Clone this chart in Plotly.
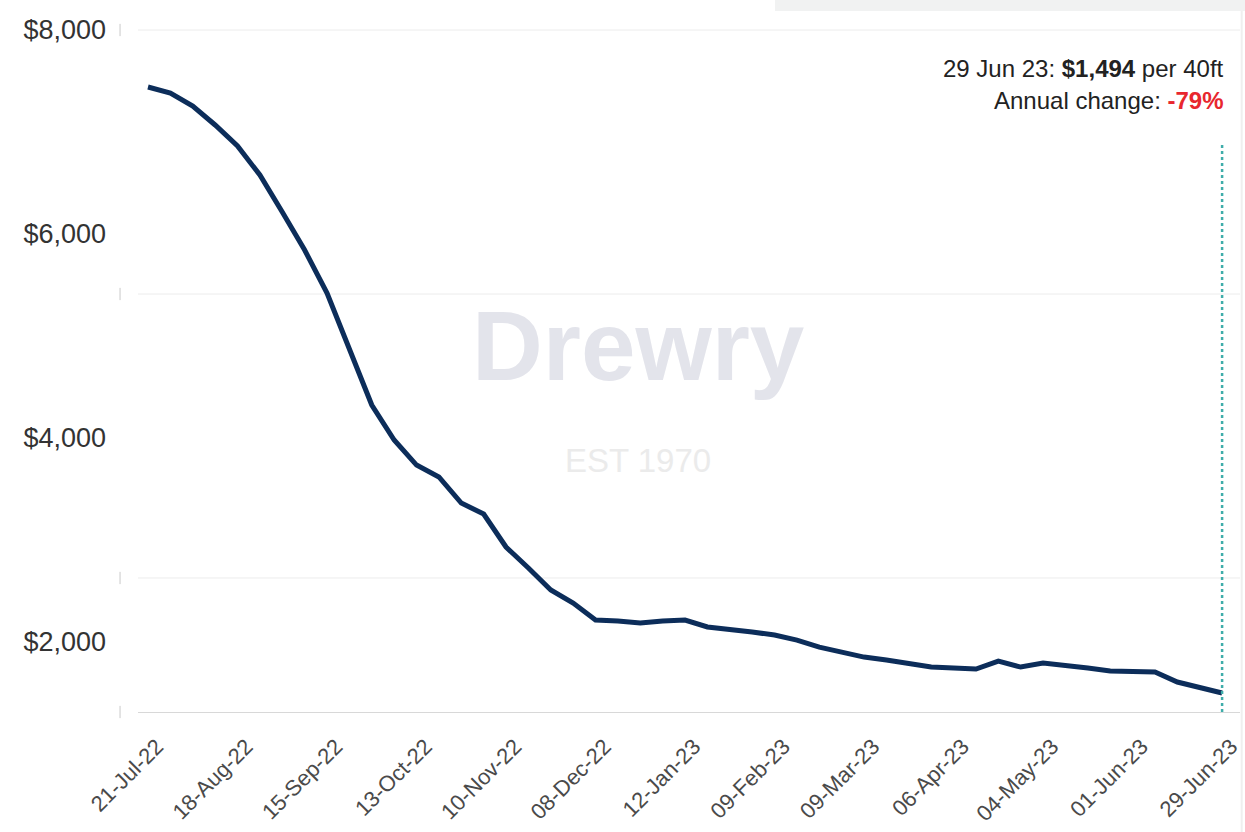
import plotly.graph_objects as go

# Weekly composite spot rate, USD per 40ft container (29 Dec 2022 not published)
dates = [
    "21-Jul-22", "28-Jul-22", "04-Aug-22", "11-Aug-22", "18-Aug-22", "25-Aug-22",
    "01-Sep-22", "08-Sep-22", "15-Sep-22", "22-Sep-22", "29-Sep-22", "06-Oct-22",
    "13-Oct-22", "20-Oct-22", "27-Oct-22", "03-Nov-22", "10-Nov-22", "17-Nov-22",
    "24-Nov-22", "01-Dec-22", "08-Dec-22", "15-Dec-22", "22-Dec-22", "05-Jan-23",
    "12-Jan-23", "19-Jan-23", "26-Jan-23", "02-Feb-23", "09-Feb-23", "16-Feb-23",
    "23-Feb-23", "02-Mar-23", "09-Mar-23", "16-Mar-23", "23-Mar-23", "30-Mar-23",
    "06-Apr-23", "13-Apr-23", "20-Apr-23", "27-Apr-23", "04-May-23", "11-May-23",
    "18-May-23", "25-May-23", "01-Jun-23", "08-Jun-23", "15-Jun-23", "22-Jun-23",
    "29-Jun-23",
]
rates = [
    7441, 7382, 7254, 7068, 6862, 6577, 6214, 5841, 5419, 4879,
    4320, 3977, 3731, 3614, 3358, 3251, 2927, 2721, 2505, 2377,
    2210, 2200, 2181, 2200, 2210, 2142, 2122, 2093, 2063, 2014,
    1945, 1896, 1847, 1818, 1788, 1749, 1739, 1730, 1808, 1749,
    1788, 1769, 1739, 1710, 1700, 1700, 1602, 1543, 1494,
]
tick_dates = dates[::4]
y_ticks = [2000, 4000, 6000, 8000]
y_tick_text = ["$2,000", "$4,000", "$6,000", "$8,000"]

latest_label = "29 Jun 23"
latest_rate = rates[-1]
annual_change = "-79%"

FONT = "Liberation Sans, Arial, sans-serif"
LINE_COLOR = "#0c2d5a"

fig = go.Figure()
fig.add_trace(go.Scatter(
    x=dates, y=rates, mode="lines",
    line=dict(color=LINE_COLOR, width=5),
    hoverinfo="skip", showlegend=False,
))

# Light horizontal guides and the small tick dashes left of the plot
guide_fracs = [1.0, 0.6129, 0.1965]
for f in guide_fracs:
    fig.add_shape(type="line", xref="paper", yref="paper", x0=0, x1=1, y0=f, y1=f,
                  line=dict(color="#ececec", width=1), layer="below")
for f in guide_fracs + [0.0]:
    fig.add_shape(type="line", xref="paper", yref="paper", x0=-0.0163, x1=-0.0163,
                  y0=f - 0.009, y1=f + 0.009, line=dict(color="#c9c9c9", width=1))

# Marker for the most recent reading
fig.add_shape(type="line", xref="x", yref="paper", x0=dates[-1], x1=dates[-1],
              y0=0, y1=0.834, line=dict(color="#3fadaa", width=2.5, dash="dot"))

# Page strip at the top right and card edge
fig.add_shape(type="rect", xref="paper", yref="paper", x0=0.578, x1=1.01,
              y0=1.028, y1=1.05, fillcolor="#f1f2f2", line=dict(width=0), layer="below")
fig.add_shape(type="line", xref="paper", yref="paper", x0=1.0015, x1=1.0015,
              y0=-0.2, y1=1.028, line=dict(color="#efefef", width=2))

# Watermark
fig.add_annotation(text="<b>Drewry</b>", xref="paper", yref="paper", x=0.4537, y=0.536,
                   showarrow=False, font=dict(family=FONT, size=98, color="#e3e4eb"))
fig.add_annotation(text="EST 1970", xref="paper", yref="paper", x=0.4537, y=0.3695,
                   showarrow=False, font=dict(family=FONT, size=33, color="#ebebeb"))

# Latest value and annual change
fig.add_annotation(
    text=f"{latest_label}: <b>${latest_rate:,}</b> per 40ft",
    xref="paper", yref="paper", x=0.9873, y=0.944, xanchor="right", yanchor="middle",
    showarrow=False, font=dict(family=FONT, size=24, color="#222222"))
fig.add_annotation(
    text=f"Annual change: <b><span style='color:#e8272e'>{annual_change}</span></b>",
    xref="paper", yref="paper", x=0.9873, y=0.896, xanchor="right", yanchor="middle",
    showarrow=False, font=dict(family=FONT, size=24, color="#222222"))

fig.update_xaxes(
    type="category", categoryorder="array", categoryarray=dates,
    range=[-0.447, len(dates) - 0.2],
    tickmode="array", tickvals=tick_dates, ticktext=tick_dates,
    tickangle=-45, ticks="", showgrid=False, zeroline=False,
    showline=True, linecolor="#d8d8d8", linewidth=1,
    ticklabelshift=9, ticklabelstandoff=12,
    tickfont=dict(family=FONT, size=22, color="#4a4a4a"),
)
fig.update_yaxes(
    range=[1308, 8000], tickmode="array", tickvals=y_ticks, ticktext=y_tick_text,
    ticks="", showgrid=False, zeroline=False, showline=False,
    ticklabelstandoff=31,
    tickfont=dict(family=FONT, size=27, color="#333333"),
)
fig.update_layout(
    width=1245, height=832,
    margin=dict(l=138, r=5, t=30, b=120, autoexpand=False),
    paper_bgcolor="white", plot_bgcolor="white",
    showlegend=False,
)

fig.write_html("out.html")
